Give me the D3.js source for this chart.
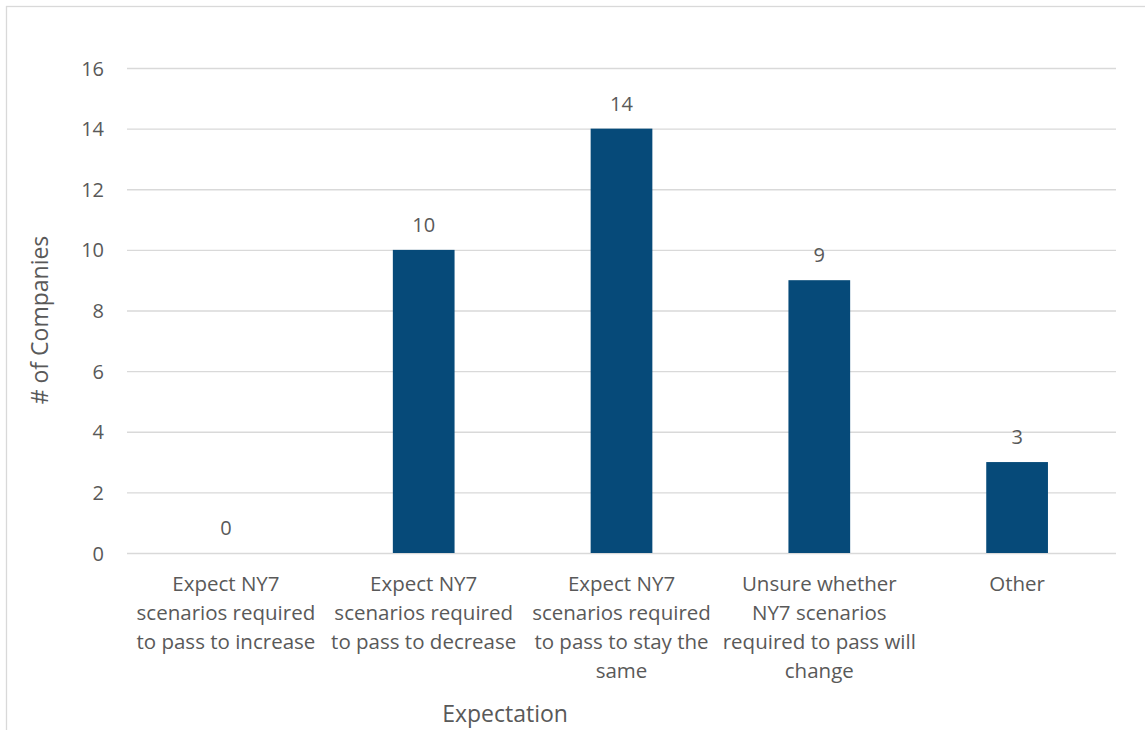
<!DOCTYPE html>
<html>
<head>
<meta charset="utf-8">
<script src="https://cdn.jsdelivr.net/npm/d3@7"></script>
<style>
  html, body { margin: 0; padding: 0; background: #fff; }
  svg { display: block; }
  text { font-family: "Open Sans", "Noto Sans", sans-serif; fill: #595959; }
</style>
</head>
<body>
<svg id="chart" width="1145" height="730"></svg>
<script>
const categories = [
  "Expect NY7 scenarios required to pass to increase",
  "Expect NY7 scenarios required to pass to decrease",
  "Expect NY7 scenarios required to pass to stay the same",
  "Unsure whether NY7 scenarios required to pass will change",
  "Other"
];
const categoryLines = [
  ["Expect NY7", "scenarios required", "to pass to increase"],
  ["Expect NY7", "scenarios required", "to pass to decrease"],
  ["Expect NY7", "scenarios required", "to pass to stay the", "same"],
  ["Unsure whether", "NY7 scenarios", "required to pass will", "change"],
  ["Other"]
];
const values = [0, 10, 14, 9, 3];
const yTicks = [0, 2, 4, 6, 8, 10, 12, 14, 16];
const yTitle = "# of Companies";
const xTitle = "Expectation";

const svg = d3.select("#chart");
const W = 1145, H = 730;
const mLeft = 127, mRight = 1116, mTop = 68, mBottom = 553;

svg.append("rect")
  .attr("x", 6.5).attr("y", 6.5)
  .attr("width", W + 10).attr("height", H + 10)
  .attr("fill", "#fff").attr("stroke", "#D9D9D9").attr("stroke-width", 1.3);

const x = d3.scaleBand().domain(categories).range([mLeft, mRight]).padding(0);
const y = d3.scaleLinear().domain([0, 16]).range([mBottom, mTop]);

// gridlines
const yAxis = d3.axisLeft(y).tickValues(yTicks).tickSize(-(mRight - mLeft)).tickPadding(23);
const gy = svg.append("g").attr("transform", `translate(${mLeft},0)`).call(yAxis);
gy.select(".domain").remove();
gy.selectAll(".tick line").attr("stroke", "#D9D9D9").attr("stroke-width", 1.3);
gy.selectAll(".tick text")
  .style("font-size", "20px").style("fill", "#595959")
  .style("font-family", '"Open Sans", sans-serif')
  .attr("dy", "0.35em");

// bars
const barW = x.bandwidth() * 0.312;
svg.append("g").selectAll("rect")
  .data(values)
  .join("rect")
  .attr("x", (d, i) => x(categories[i]) + x.bandwidth() / 2 - barW / 2)
  .attr("y", d => y(d))
  .attr("width", barW)
  .attr("height", d => y(0) - y(d))
  .attr("fill", "#064A79");

// data labels
svg.append("g").selectAll("text")
  .data(values)
  .join("text")
  .attr("x", (d, i) => x(categories[i]) + x.bandwidth() / 2)
  .attr("y", d => y(d) - 18)
  .attr("text-anchor", "middle")
  .style("font-size", "20px")
  .text(d => d);

// category labels
const xl = svg.append("g");
categoryLines.forEach((lines, i) => {
  const cx = x(categories[i]) + x.bandwidth() / 2;
  const t = xl.append("text")
    .attr("x", cx)
    .attr("y", 591)
    .attr("text-anchor", "middle")
    .style("font-size", "20.5px");
  lines.forEach((ln, j) => {
    t.append("tspan")
      .attr("x", cx)
      .attr("y", 591 + j * 29)
      .text(ln);
  });
});

// axis titles
svg.append("text")
  .attr("transform", `translate(48,320) rotate(-90)`)
  .attr("text-anchor", "middle")
  .style("font-size", "23px")
  .text(yTitle);

svg.append("text")
  .attr("x", 505).attr("y", 722)
  .attr("text-anchor", "middle")
  .style("font-size", "23px")
  .text(xTitle);
</script>
</body>
</html>
